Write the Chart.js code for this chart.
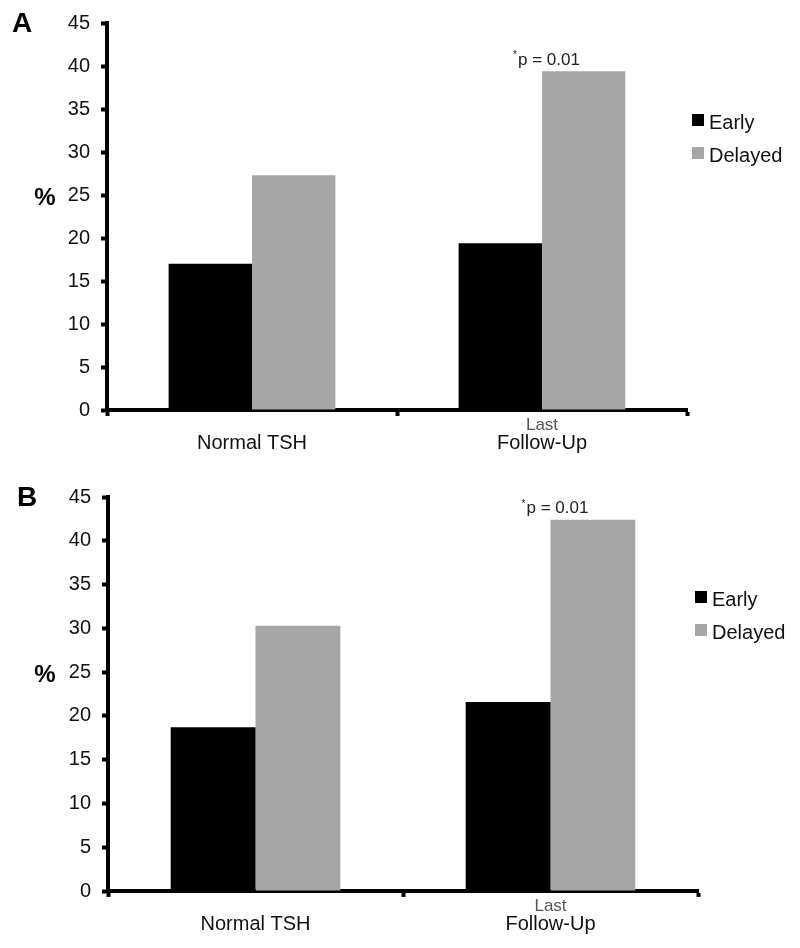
<!DOCTYPE html>
<html>
<head>
<meta charset="utf-8">
<script src="https://cdn.jsdelivr.net/npm/chart.js@4"></script>
<style>
  body { margin: 0; background: #fff; }
  .panel { position: absolute; left: 0; width: 800px; height: 474px; }
</style>
</head>
<body>
<div class="panel" style="top:0"><canvas id="chartA" width="800" height="474"></canvas></div>
<div class="panel" style="top:474px"><canvas id="chartB" width="800" height="474"></canvas></div>
<script>
// data
const categories = ["Normal TSH", "Follow-Up"];
const categoryPrefix = ["", "Last"];
const seriesLabels = ["Early", "Delayed"];
const seriesColors = ["#000000", "#a6a6a6"];
const earlyA = [17.0, 19.4];
const delayedA = [27.3, 39.4];
const earlyB = [18.7, 21.6];
const delayedB = [30.3, 42.4];
const yMax = 45;
const yStep = 5;
const pText = "p = 0.01";

const FONT = "'Liberation Sans', Arial, sans-serif";

// letters, %, "Last", p value and legend
const overlay = {
  id: "overlay",
  afterDraw(chart) {
    const o = chart.options.plugins.overlay;
    const ctx = chart.ctx;
    const area = chart.chartArea;
    const xs = chart.scales.x;
    const ys = chart.scales.y;
    ctx.save();
    ctx.textBaseline = "middle";

    ctx.fillStyle = "#000";
    ctx.font = "bold 28px " + FONT;
    ctx.textAlign = "left";
    ctx.fillText(o.letter, o.letterX, 24);

    ctx.font = "bold 24px " + FONT;
    ctx.textAlign = "center";
    ctx.fillText("%", 45, ys.getPixelForValue(25) + 3);

    // small prefix line above category label
    ctx.font = "17px " + FONT;
    ctx.fillStyle = "#555";
    categoryPrefix.forEach(function(p, i) {
      if (p) ctx.fillText(p, xs.getPixelForValue(i), area.bottom + 15);
    });

    // p value above the delayed follow-up bar
    const bar = chart.getDatasetMeta(1).data[1];
    const tx = bar.x - bar.width / 2 - 29;
    const ty = bar.y - 11;
    ctx.fillStyle = "#222";
    ctx.textAlign = "left";
    ctx.font = "10px " + FONT;
    ctx.fillText("*", tx, ty - 5);
    ctx.font = "17px " + FONT;
    ctx.fillText(pText, tx + 5, ty);

    // legend
    ctx.font = "20px " + FONT;
    seriesLabels.forEach(function(lbl, i) {
      const cy = o.legendTop + i * 33;
      ctx.fillStyle = seriesColors[i];
      ctx.fillRect(o.legendX, cy - 6, 12, 12);
      ctx.fillStyle = "#111";
      ctx.fillText(lbl, o.legendX + 17, cy + 3);
    });
    ctx.restore();
  }
};

function makeChart(id, early, delayed, cfg) {
  return new Chart(document.getElementById(id), {
    type: "bar",
    data: {
      labels: categories,
      datasets: [
        { label: seriesLabels[0], data: early, backgroundColor: seriesColors[0] },
        { label: seriesLabels[1], data: delayed, backgroundColor: seriesColors[1] }
      ]
    },
    options: {
      responsive: false,
      animation: false,
      devicePixelRatio: 1,
      categoryPercentage: 0.575,
      barPercentage: 1.0,
      layout: { padding: { top: 20, right: cfg.right, left: 0, bottom: 0 } },
      plugins: {
        legend: { display: false },
        tooltip: { enabled: false },
        overlay: cfg
      },
      scales: {
        x: {
          afterFit: function(s) { s.height = cfg.xHeight; },
          border: { display: true, color: "#000", width: 4 },
          grid: { drawOnChartArea: false, drawTicks: true, tickLength: 6, tickWidth: 4, tickColor: "#000", offset: true },
          ticks: { color: "#111", padding: 15, font: { family: FONT, size: 20 } }
        },
        y: {
          min: 0,
          max: yMax,
          afterFit: function(s) { s.width = cfg.yWidth; },
          border: { display: true, color: "#000", width: 4 },
          grid: { drawOnChartArea: false, drawTicks: true, tickLength: 6, tickWidth: 4, tickColor: "#000" },
          ticks: { stepSize: yStep, color: "#111", padding: 11, font: { family: FONT, size: 20 } }
        }
      }
    },
    plugins: [overlay]
  });
}

makeChart("chartA", earlyA, delayedA, {
  letter: "A", letterX: 12, right: 113, xHeight: 64, yWidth: 107, legendX: 692, legendTop: 120
});
makeChart("chartB", earlyB, delayedB, {
  letter: "B", letterX: 17, right: 102, xHeight: 57, yWidth: 108, legendX: 695, legendTop: 123
});
</script>
</body>
</html>
